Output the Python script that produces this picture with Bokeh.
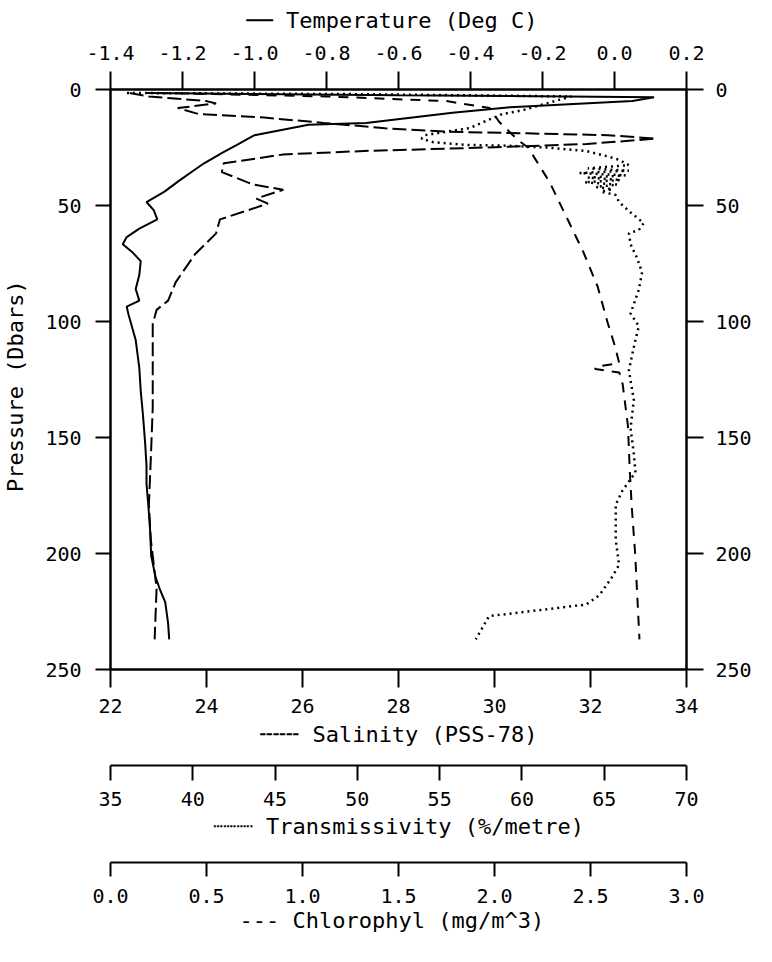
from bokeh.plotting import figure
from bokeh.models import Range1d, LinearAxis, FixedTicker, PrintfTickFormatter
from bokeh.embed import file_html
from bokeh.resources import INLINE

# ---------------- data (pressure in dbar) ----------------
temp_p = [1.5, 2.5, 3.3, 5, 7.6, 10, 14.4, 15.2, 19.7, 24, 27.3, 31.8, 35, 39.4, 44, 48.5, 52, 56, 60,
          63.6, 66.7, 70, 74, 80, 86, 91, 93.6, 97, 108, 120, 130, 140, 152, 162, 170, 179, 190, 201,
          210, 215, 221, 230, 237]
temp_v = [-1.30, -0.6, 0.11, 0.05, -0.29, -0.45, -0.69, -0.85, -1.0, -1.05, -1.09, -1.14, -1.17, -1.21,
          -1.25, -1.30, -1.28, -1.27, -1.32, -1.355, -1.366, -1.34, -1.316, -1.32, -1.33, -1.32, -1.355,
          -1.35, -1.33, -1.32, -1.316, -1.31, -1.304, -1.30, -1.30, -1.295, -1.29, -1.287, -1.275, -1.264,
          -1.248, -1.24, -1.237]

sal_p = [1.5, 3, 5, 7, 8, 14, 22, 25, 30, 40, 55, 70, 85, 100, 110, 118, 119.5, 120.5, 122, 127, 145,
         165, 180, 200, 237]
sal_v = [23.0, 26.5, 29.0, 29.6, 29.9, 30.1, 30.5, 30.7, 30.85, 31.15, 31.5, 31.85, 32.15, 32.35, 32.5,
         32.6, 32.1, 32.1, 32.6, 32.67, 32.78, 32.82, 32.86, 32.93, 33.02]

trans_p = [1.5, 2, 3, 5, 7, 9, 10.6, 13.6, 16.7, 18.2, 19.7, 21.2, 22.7, 23.9, 24.2, 25, 26.5, 28.8, 30.3,
           32.6, 34, 35, 36, 37, 38, 39, 40, 41, 42, 43, 44, 45.5, 48.5, 53, 57.6, 60.6, 62, 66.7, 72.7,
           78.8, 86.4, 96.5, 102, 111, 121, 134, 146, 157, 165, 173, 179, 194, 205, 211, 218, 222, 227, 237]
trans_v = [36, 50, 63, 62, 61, 60, 58.8, 57.8, 56.8, 55.4, 54.1, 53.9, 54.6, 56.6, 59.0, 61.5, 63.9, 65.2,
           65.9, 66.5, 64, 66.5, 63.5, 66.3, 64, 66, 63.8, 65.8, 64.5, 65.5, 64.8, 65.7, 65.9, 66.6, 67.4,
           67.1, 66.5, 66.6, 67.0, 67.3, 67.1, 66.6, 67.1, 66.8, 66.5, 66.8, 66.6, 66.8, 66.9, 66.1, 65.7,
           65.7, 65.9, 65.4, 64.7, 63.9, 58.0, 57.2]

chl_p = [1.5, 3, 5, 6, 8, 10.6, 12.1, 14.4, 16.7, 18.2, 18.9, 19.7, 21.2, 23.5, 25, 26.5, 28, 31.8, 35.6,
         40.9, 43.2, 47, 49.2, 56, 62, 71, 83, 91, 95, 101, 115, 137, 159, 179, 194, 215, 237]
chl_v = [0.1, 0.2, 0.5, 0.55, 0.35, 0.46, 0.8, 1.11, 1.43, 1.75, 2.17, 2.59, 2.84, 2.48, 1.96, 1.32, 0.9,
         0.59, 0.58, 0.74, 0.9, 0.76, 0.82, 0.57, 0.55, 0.44, 0.34, 0.30, 0.24, 0.22, 0.22, 0.22, 0.21, 0.2,
         0.21, 0.24, 0.23]

pressure_ticks = [0, 50, 100, 150, 200, 250]
sal_ticks = [22, 24, 26, 28, 30, 32, 34]
temp_ticks = [-1.4, -1.2, -1.0, -0.8, -0.6, -0.4, -0.2, 0.0, 0.2]
trans_ticks = [35, 40, 45, 50, 55, 60, 65, 70]
chl_ticks = [0.0, 0.5, 1.0, 1.5, 2.0, 2.5, 3.0]

FONT = "DejaVu Sans Mono"
FS = "20px"      # tick labels
FS_T = "22px"    # axis titles

p = figure(width=756, height=946, output_backend="svg", toolbar_location=None,
           x_range=Range1d(22, 34), y_range=Range1d(250, 0),
           x_axis_location=None, y_axis_location=None,
           min_border_left=105, min_border_right=70, min_border_top=89, min_border_bottom=277)
p.extra_x_ranges = {"temp": Range1d(-1.4, 0.2), "trans": Range1d(35, 70), "chl": Range1d(0, 3)}
p.grid.visible = False
p.outline_line_color = "black"
p.outline_line_width = 2
p.background_fill_color = "white"
p.border_fill_color = "white"


def style(ax, tick_out, standoff, label_standoff):
    ax.axis_line_color = "black"
    ax.axis_line_width = 2
    ax.major_tick_line_color = "black"
    ax.major_tick_line_width = 2
    ax.major_tick_out = tick_out
    ax.major_tick_in = 0
    ax.minor_tick_line_color = None
    ax.major_label_text_font = FONT
    ax.major_label_text_font_size = FS
    ax.major_label_text_color = "black"
    ax.major_label_standoff = standoff
    ax.axis_label_text_font = FONT
    ax.axis_label_text_font_size = FS_T
    ax.axis_label_text_font_style = "normal"
    ax.axis_label_text_color = "black"
    ax.axis_label_standoff = label_standoff
    return ax


def spacer(range_name, tick_at, size):
    # an axis with one blank (white) tick and no label: it only reserves vertical space
    ax = LinearAxis(x_range_name=range_name, ticker=FixedTicker(ticks=[tick_at]))
    ax.axis_line_color = None
    ax.major_tick_line_color = "white"
    ax.major_tick_line_width = 1
    ax.minor_tick_line_color = None
    ax.major_tick_out = size
    ax.major_tick_in = 0
    ax.major_label_text_color = None
    ax.major_label_standoff = 0
    return ax


# left pressure axis
yl = style(LinearAxis(ticker=FixedTicker(ticks=pressure_ticks), axis_label="Pressure  (Dbars)"), 15, 14, 14)
p.add_layout(yl, "left")

# right pressure axis
yr = style(LinearAxis(ticker=FixedTicker(ticks=pressure_ticks)), 17, 12, 0)
p.add_layout(yr, "right")

# top temperature axis
xt = style(LinearAxis(x_range_name="temp", ticker=FixedTicker(ticks=temp_ticks),
                      formatter=PrintfTickFormatter(format="%.1f"),
                      axis_label="\u2500\u2500 Temperature  (Deg C)"), 18, 12, 10)
p.add_layout(xt, "above")

# bottom salinity axis
xb = style(LinearAxis(ticker=FixedTicker(ticks=sal_ticks),
                      axis_label="\u254c\u254c\u254c Salinity (PSS-78)"), 18, 11, 6)
p.add_layout(xb, "below")

p.add_layout(spacer("trans", 35, 16), "below")

xtr = style(LinearAxis(x_range_name="trans", ticker=FixedTicker(ticks=trans_ticks),
                       axis_label="\u2508\u2508\u2508 Transmissivity (%/metre)"), 15, 11, 5)
p.add_layout(xtr, "below")

p.add_layout(spacer("chl", 0.0, 21), "below")

xc = style(LinearAxis(x_range_name="chl", ticker=FixedTicker(ticks=chl_ticks),
                      formatter=PrintfTickFormatter(format="%.1f"),
                      axis_label="--- Chlorophyl  (mg/m^3)"), 14, 12, 2)
p.add_layout(xc, "below")

# ---------------- profiles ----------------
p.line(sal_v, sal_p, line_color="black", line_width=2, line_dash="10 8")
p.line(trans_v, trans_p, x_range_name="trans", line_color="black", line_width=2.5, line_dash="2 4")
p.line(chl_v, chl_p, x_range_name="chl", line_color="black", line_width=2, line_dash="14 5")
p.line(temp_v, temp_p, x_range_name="temp", line_color="black", line_width=2)

open("out.html", "w").write(file_html(p, INLINE))
